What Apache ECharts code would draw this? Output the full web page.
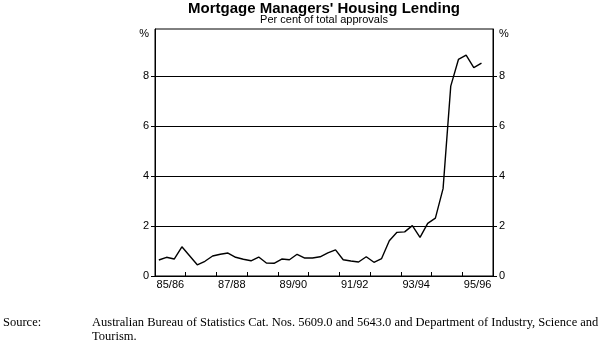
<!DOCTYPE html>
<html>
<head>
<meta charset="utf-8">
<script src="https://cdn.jsdelivr.net/npm/echarts@6/dist/echarts.min.js"></script>
<style>
  html, body { margin: 0; padding: 0; background: #fff; }
  #chart { width: 600px; height: 340px; }
</style>
</head>
<body>
<div id="chart"></div>
<script>
// Mortgage managers' share of housing loan approvals, quarterly from Sep 1985 to Mar 1996 (per cent)
const yearLabels = ['85/86', '87/88', '89/90', '91/92', '93/94', '95/96'];
const quarterlyShare = [
  0.64, 0.75, 0.68, 1.17, 0.81, 0.45, 0.59, 0.80, 0.87, 0.92,
  0.75, 0.67, 0.61, 0.76, 0.52, 0.51, 0.68, 0.65, 0.87, 0.72,
  0.72, 0.77, 0.93, 1.05, 0.65, 0.60, 0.56, 0.77, 0.55, 0.70,
  1.41, 1.75, 1.77, 2.02, 1.55, 2.11, 2.32, 3.50, 7.61, 8.68,
  8.85, 8.35, 8.53
];
const yTicks = [0, 2, 4, 6, 8];
const yUnitLabel = '%';

const YEARS = 11;             // fiscal years 85/86 .. 95/96, starting July 1985
const Y_MAX = 9.9;
const UNIT_POS = 9.72;        // where the "%" unit sits on each value axis

const sans = '"Liberation Sans", Arial, Helvetica, sans-serif';
const serif = '"Liberation Serif", "Times New Roman", serif';

// x is measured in quarters from July 1985; each quarter is plotted at its midpoint
const points = quarterlyShare.map((v, i) => [i + 0.5, v]);
const yearBounds = Array.from({ length: YEARS + 1 }, (_, k) => k * 4);
const labelPos = yearLabels.map((_, k) => k * 8 + 2);

const grid = { left: 155, right: 107, top: 29, bottom: 64 };
const plotCentre = grid.left + (600 - grid.left - grid.right) / 2;

function yAxisFor(position, withGrid) {
  return {
    type: 'value',
    position: position,
    min: 0,
    max: Y_MAX,
    axisLine: { show: true, lineStyle: { color: '#000', width: 1 } },
    axisTick: { show: true, inside: false, length: 4, customValues: yTicks,
                lineStyle: { color: '#000', width: 1 } },
    axisLabel: {
      customValues: yTicks.concat([UNIT_POS]),
      formatter: v => (v > yTicks[yTicks.length - 1] ? yUnitLabel : String(v)),
      margin: 6, color: '#000', fontFamily: sans, fontSize: 11
    },
    splitLine: { show: withGrid, lineStyle: { color: '#000', width: 1 } }
  };
}

const chart = echarts.init(document.getElementById('chart'), null, { renderer: 'canvas' });
chart.setOption({
  animation: false,
  backgroundColor: '#fff',
  grid: Object.assign({ show: true, borderColor: '#000', borderWidth: 1,
                        backgroundColor: 'transparent', containLabel: false,
                        outerBoundsMode: 'none' }, grid),
  xAxis: {
    type: 'value',
    min: 0,
    max: YEARS * 4,
    interval: 4,
    axisLine: { show: true, lineStyle: { color: '#000', width: 1 } },
    axisTick: { show: true, inside: true, length: 4, customValues: yearBounds,
                lineStyle: { color: '#000', width: 1 } },
    axisLabel: {
      customValues: labelPos,
      formatter: v => yearLabels[Math.round((v - 2) / 8)],
      margin: 3, color: '#000', fontFamily: sans, fontSize: 11
    },
    splitLine: { show: false }
  },
  yAxis: [yAxisFor('left', true), yAxisFor('right', false)],
  series: [{
    type: 'line',
    data: points,
    showSymbol: false,
    symbol: 'none',
    lineStyle: { color: '#000', width: 1.4 },
    z: 5
  }],
  graphic: [
    { type: 'text', x: plotCentre, y: 8.5,
      style: { text: "Mortgage Managers' Housing Lending", fill: '#000',
               font: 'bold 15px ' + sans, align: 'center', verticalAlign: 'middle' } },
    { type: 'text', x: plotCentre, y: 20,
      style: { text: 'Per cent of total approvals', fill: '#000',
               font: '11px ' + sans, align: 'center', verticalAlign: 'middle' } },
    { type: 'text', x: 3, y: 316,
      style: { text: 'Source:', fill: '#000', font: '12.5px ' + serif,
               lineHeight: 14, align: 'left', verticalAlign: 'top' } },
    { type: 'text', x: 92, y: 316,
      style: { text: 'Australian Bureau of Statistics Cat. Nos. 5609.0 and 5643.0 and Department of Industry, Science and\nTourism.',
               fill: '#000', font: '12.5px ' + serif, lineHeight: 14,
               align: 'left', verticalAlign: 'top' } }
  ]
});
</script>
</body>
</html>
